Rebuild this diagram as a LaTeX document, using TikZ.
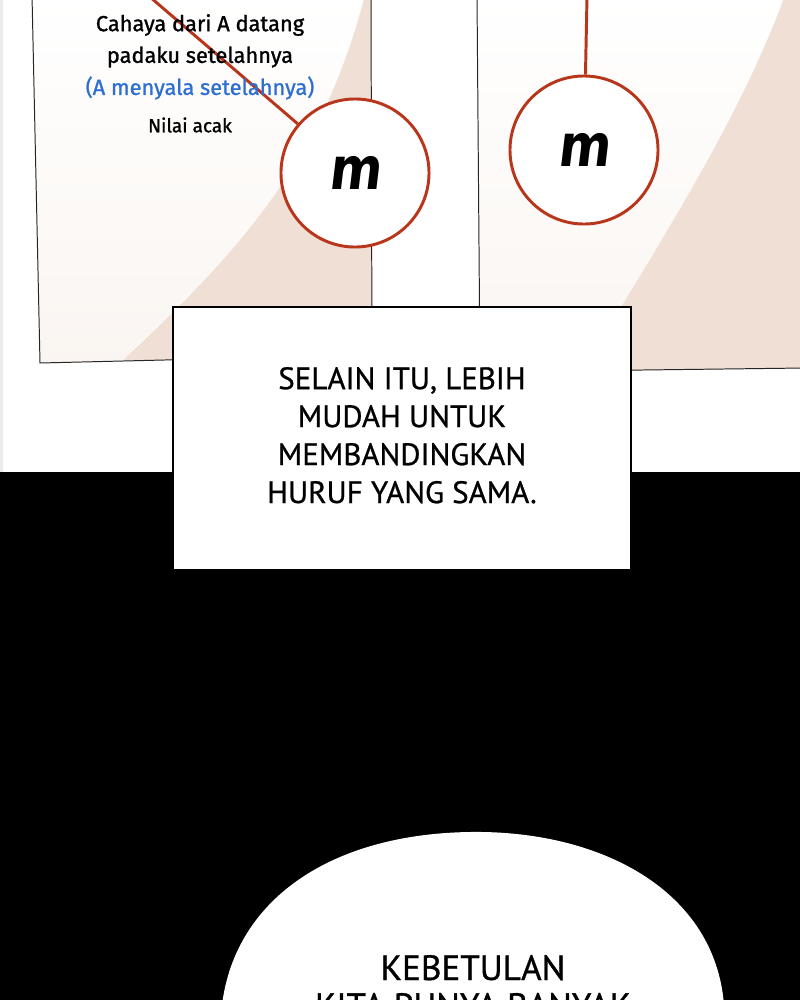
\documentclass[tikz,border=0pt]{standalone}
\usepackage{fontspec}
\usepackage{xcolor,tikz}
\usetikzlibrary{positioning}
\newfontfamily\notefont[FakeBold=1.2]{Fira Sans}
\newfontfamily\boxfont[FakeBold=0.8]{PT Sans}
\newfontfamily\letterfont[FakeSlant=0.12,FakeStretch=0.85]{DejaVu Sans}

\begin{document}
\begin{tikzpicture}[x=0.025cm,y=-0.025cm]
  \definecolor{paper}{HTML}{FAF5F1}
  \definecolor{paperdark}{HTML}{EFDFD5}
  \definecolor{rope}{HTML}{B8361B}
  \definecolor{noteblue}{HTML}{2E6FD1}
  \newcommand{\notetext}[1]{\fontsize{15.5}{19}\selectfont #1}
  \newcommand{\captext}[1]{\fontsize{22}{27}\selectfont \begin{tabular}{c}#1\end{tabular}}
  \tikzstyle{tag}     = [circle, draw = rope, line width=2.1pt, fill = white, minimum size=3.7cm, inner sep=0pt]
  \tikzstyle{rope}    = [draw = rope, line width=2.1pt]
  \tikzstyle{caption} = [rectangle, draw = black, line width=1.4pt, fill = white, minimum width=11.45cm, minimum height=6.575cm]

  \useasboundingbox (0,0) rectangle (800,1000);
  \clip (0,0) rectangle (800,1000);
  \fill[white] (0,0) rectangle (800,1000);
  \fill[black!8] (0,0) rectangle (3,472);

  % left sheet
  \begin{scope}
    \clip (32,-5) -- (40,363) -- (372,355) -- (371,-5) -- cycle;
    \shade[top color=white, bottom color=paper] (0,-5) rectangle (400,370);
    \fill[paperdark] (365,-5) .. controls (320,170) and (230,260) .. (115,368) -- (380,368) -- (380,-5) -- cycle;
  \end{scope}
  \draw[black!85, line width=0.7pt] (32,-5) -- (40,363) -- (372,355) -- (371,-5);

  % right sheet
  \begin{scope}
    \clip (477,-5) -- (480,372) -- (805,368) -- (805,-5) -- cycle;
    \shade[top color=white, bottom color=paper] (470,-5) rectangle (805,380);
    \fill[paperdark] (785,-5) .. controls (740,120) and (655,250) .. (580,375) -- (805,375) -- (805,-5) -- cycle;
  \end{scope}
  \draw[black!85, line width=0.7pt] (477,-5) -- (480,372) -- (805,368);

  % dark lower half
  \fill[black] (0,472) rectangle (800,1000);

  % tags
  \node [tag] (lefttag)  at (355,173) {\letterfont\bfseries\fontsize{42}{42}\selectfont m};
  \node [tag] (righttag) at (584,150) {\letterfont\bfseries\fontsize{42}{42}\selectfont m};
  \coordinate (leftknot)  at (150,-3);
  \coordinate (rightknot) at (587,-3);
  \draw [rope] (leftknot)  -- (lefttag);
  \draw [rope] (rightknot) -- (righttag);

  % notes on the left sheet
  \node [font=\notefont] (note1) at (200,25)  {\notetext{Cahaya dari A datang}};
  \node [font=\notefont] (note2) at (200,57)  {\notetext{padaku setelahnya}};
  \node [font=\notefont, text = noteblue] (note3) at (200,88) {\notetext{(A menyala setelahnya)}};
  \node [font=\notefont] (note4) at (190,125) {\fontsize{13.5}{16}\selectfont Nilai acak};

  % caption box
  \node [caption, font=\boxfont] (caption) at (402,438.5) {\captext{SELAIN ITU, LEBIH\\MUDAH UNTUK\\MEMBANDINGKAN\\HURUF YANG SAMA.}};

  % speech bubble
  \fill[white] (222,1005) .. controls (235,900) and (330,834) .. (470,832) .. controls (600,830) and (715,890) .. (724,1005) -- cycle;
  \node [font=\boxfont, anchor=base] (bubble1) at (473,980) {\fontsize{25}{28}\selectfont KEBETULAN};
  \node [font=\boxfont, anchor=north, below = 0.2cm of bubble1.base] (bubble2) {\fontsize{25}{28}\selectfont KITA PUNYA BANYAK};
\end{tikzpicture}
\end{document}
